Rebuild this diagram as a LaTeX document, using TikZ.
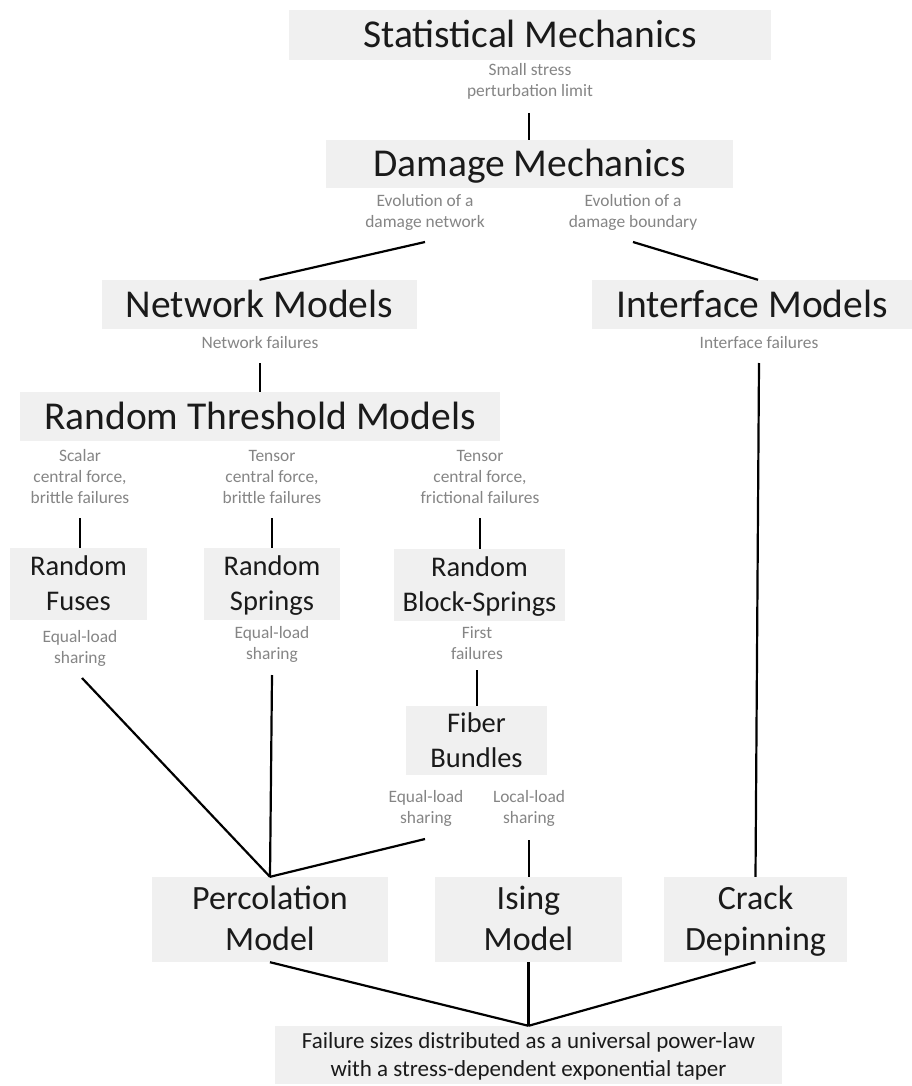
\documentclass[tikz,border=0pt]{standalone}
\usepackage{fontspec}
\setmainfont{Carlito}
\usetikzlibrary{calc}
\definecolor{boxgray}{HTML}{F0F0F0}
\definecolor{lblgray}{HTML}{858585}
\definecolor{ink}{HTML}{1A1A1A}
\newcommand\mystrut{\rule[-0.26em]{0pt}{1.16em}}
\begin{document}
\begin{tikzpicture}[x=1pt,y=-1pt,
  box/.style={fill=boxgray, inner sep=0pt, align=center, text=ink},
  big/.style={box, font=\fontsize{39.5}{47}\selectfont, minimum height=49pt},
  mid/.style={box, font=\fontsize{28.5}{35}\selectfont, minimum height=72pt},
  lrg/.style={box, font=\fontsize{34}{41}\selectfont, minimum height=85pt},
  lbl/.style={text=lblgray, align=center, inner sep=0pt, font=\fontsize{17.4}{21}\selectfont},
  link/.style={draw=black, line width=2.2pt}]
\fill[white] (0,0) rectangle (912,1086);
\useasboundingbox (0,0) rectangle (912,1086);

\node[big, minimum width=482pt, minimum height=50pt] (stat) at (530,35) {\mystrut Statistical Mechanics};
\node[lbl] (l1) at (530,80.5) {\mystrut Small stress\\\mystrut perturbation limit};
\node[big, minimum width=407pt, minimum height=48pt] (dmg) at (529.5,164) {\mystrut Damage Mechanics};
\node[lbl] (l2) at (425,211) {\mystrut Evolution of a\\\mystrut damage network};
\node[lbl] (l3) at (633,211.5) {\mystrut Evolution of a\\\mystrut damage boundary};
\node[big, minimum width=315pt] (net) at (259.5,304.5) {\mystrut Network Models};
\node[big, minimum width=320pt] (ifc) at (752,304.5) {\mystrut Interface Models};
\node[lbl] (l4) at (260,343) {\mystrut Network failures};
\node[lbl] (l5) at (759,343) {\mystrut Interface failures};
\node[big, minimum width=480pt] (rtm) at (260,416.5) {\mystrut Random Threshold Models};
\node[lbl] (l6) at (80,477) {\mystrut Scalar\\\mystrut central force,\\\mystrut brittle failures};
\node[lbl] (l7) at (272,477) {\mystrut Tensor\\\mystrut central force,\\\mystrut brittle failures};
\node[lbl] (l8) at (480,477) {\mystrut Tensor\\\mystrut central force,\\\mystrut frictional failures};
\node[mid, minimum width=137pt] (fus) at (78.5,584) {\mystrut Random\\\mystrut Fuses};
\node[mid, minimum width=136pt] (spr) at (272,584) {\mystrut Random\\\mystrut Springs};
\node[mid, minimum width=171pt] (blk) at (479.5,585) {\mystrut Random\\\mystrut Block-Springs};
\node[lbl] (l9) at (80,647) {\mystrut Equal-load\\\mystrut sharing};
\node[lbl] (l10) at (272,643) {\mystrut Equal-load\\\mystrut sharing};
\node[lbl] (l11) at (477,643.5) {\mystrut First\\\mystrut failures};
\node[mid, minimum width=141pt, minimum height=69pt] (fib) at (476.5,740.5) {\mystrut Fiber\\\mystrut Bundles};
\node[lbl] (l12) at (426,807.5) {\mystrut Equal-load\\\mystrut sharing};
\node[lbl] (l13) at (529,807.5) {\mystrut Local-load\\\mystrut sharing};
\node[lrg, minimum width=236pt] (per) at (270,919.5) {\mystrut Percolation\\\mystrut Model};
\node[lrg, minimum width=187pt] (isg) at (528.5,919.5) {\mystrut Ising\\\mystrut Model};
\node[lrg, minimum width=183pt] (crk) at (755.5,919.5) {\mystrut Crack\\\mystrut Depinning};
\node[box, font=\fontsize{23}{26.5}\selectfont, minimum width=507pt, minimum height=58pt] (fail) at (528.5,1055) {\mystrut Failure sizes distributed as a universal power-law\\\mystrut with a stress-dependent exponential taper};

\coordinate (s1) at (529,113);
\coordinate (s2) at (425,242);
\coordinate (s3) at (633,242);
\coordinate (s4) at (260,363);
\coordinate (s5) at (759,363);
\coordinate (s6) at (80,518);
\coordinate (s7) at (272,518);
\coordinate (s8) at (480,518);
\coordinate (s9) at (82,678);
\coordinate (s10) at (272,675);
\coordinate (s11) at (477,670);
\coordinate (s12) at (425,839);
\coordinate (s13) at (529,840);

\draw[link] (s1) -- (s1 |- dmg.north);
\draw[link] (s2) -- (net.north);
\draw[link] (s3) -- ($(ifc.north)+(6,0)$);
\draw[link] (s4) -- (s4 |- rtm.north);
\draw[link] (s5) -- (crk.north);
\draw[link] (s6) -- (s6 |- fus.north);
\draw[link] (s7) -- (s7 |- spr.north);
\draw[link] (s8) -- (s8 |- blk.north);
\draw[link] (s9) -- (per.north);
\draw[link] (s10) -- (per.north);
\draw[link] (s11) -- (s11 |- fib.north);
\draw[link] (s12) -- (per.north);
\draw[link] (s13) -- (s13 |- isg.north);
\draw[link] (per.south) -- (fail.north);
\draw[link] (isg.south) -- (fail.north);
\draw[link] (crk.south) -- (fail.north);
\end{tikzpicture}
\end{document}
